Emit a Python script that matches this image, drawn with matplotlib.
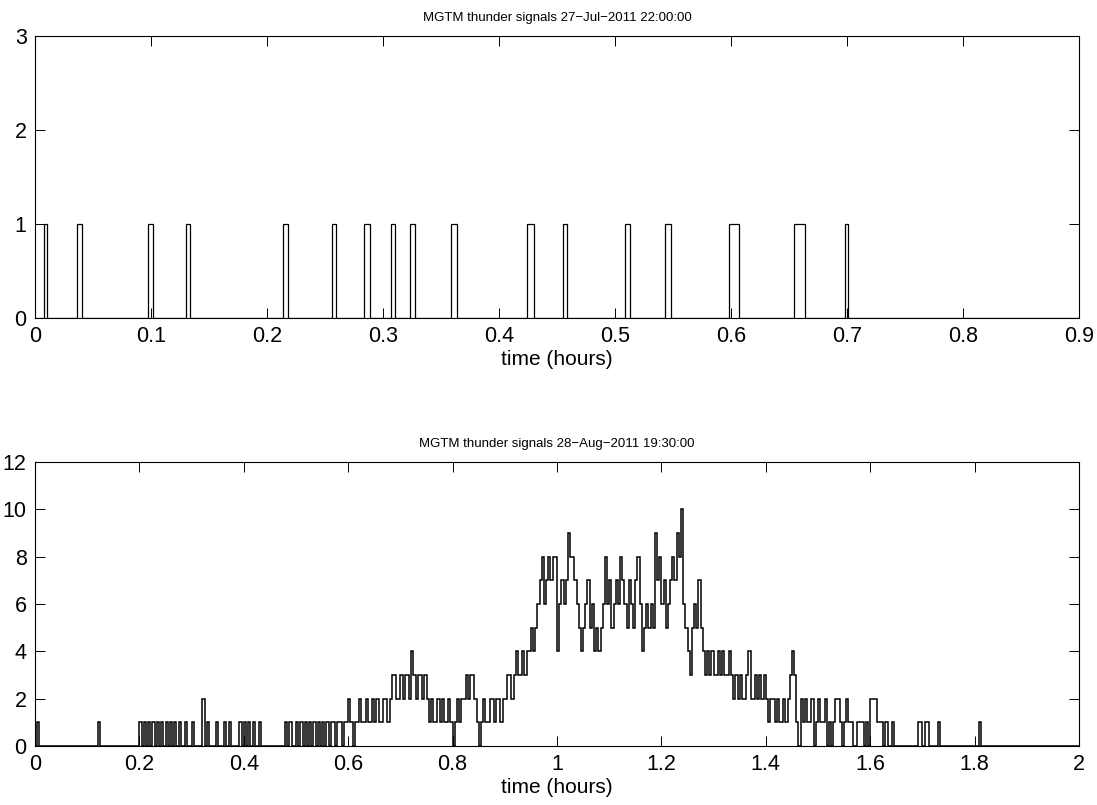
import numpy as np
import matplotlib
matplotlib.use("Agg")
import matplotlib.pyplot as plt

# top panel: pulse start/end times (hours), each pulse has height 1
pulse_start = [0.0078, 0.0359, 0.0974, 0.1300, 0.2140, 0.2560, 0.2836, 0.3067, 0.3233,
               0.3583, 0.4239, 0.4549, 0.5086, 0.5430, 0.5985, 0.6543, 0.6985]
pulse_end = [0.0101, 0.0405, 0.1020, 0.1336, 0.2184, 0.2595, 0.2890, 0.3106, 0.3273,
             0.3640, 0.4300, 0.4589, 0.5129, 0.5480, 0.6072, 0.6640, 0.7009]

# bottom panel: counts per 15 s bin, one list per quarter hour
counts_q1 = [0, 1, 0, 0, 0, 0, 0, 0, 0, 0, 0, 0, 0, 0, 0, 0, 0, 0, 0, 0,
             0, 0, 0, 0, 0, 0, 0, 0, 0, 1, 0, 0, 0, 0, 0, 0, 0, 0, 0, 0,
             0, 0, 0, 0, 0, 0, 0, 0, 1, 0, 1, 0, 1, 0, 1, 0, 1, 0, 1, 0]
counts_q2 = [1, 0, 1, 0, 1, 0, 1, 0, 0, 1, 0, 0, 1, 0, 0, 0, 0, 2, 0, 1,
             0, 0, 0, 1, 0, 0, 0, 1, 0, 1, 0, 0, 0, 0, 1, 0, 1, 0, 1, 0,
             1, 0, 0, 1, 0, 0, 0, 0, 0, 0, 0, 0, 0, 0, 0, 1, 0, 1, 0, 0]
counts_q3 = [1, 0, 1, 0, 1, 0, 1, 0, 1, 0, 1, 0, 1, 0, 1,
             0, 1, 1, 0, 1, 1, 0, 1, 1, 2, 1, 0, 1, 1, 2, 1, 1, 2, 1, 1, 2,
             1, 2, 1, 1, 2, 2, 1, 2, 3, 3, 2, 2,
             3, 2, 3, 3, 2, 4, 3, 2, 3, 3, 2, 3]
counts_q4 = [2, 1, 2, 1, 1, 2, 1, 2, 1, 1, 2, 1, 0, 1, 2, 1, 2, 2, 3, 2,
             3, 3, 2, 1, 0, 1, 2, 1, 1, 2, 2, 1, 2, 2, 1, 2, 2, 3, 3, 2,
             3, 4, 3, 3, 4, 3, 4, 4, 5, 4, 5, 6, 7, 8, 6, 7, 8, 7, 8, 8]
counts_q5 = [4, 6, 7, 6, 7, 9, 8, 8, 7, 6, 5, 4, 5, 6, 7, 5, 6, 4, 5, 4,
             5, 6, 8, 6, 7, 5, 6, 7, 6, 8, 7, 6, 5, 7, 6, 5, 7, 8, 6, 4,
             5, 6, 5, 6, 5, 9, 7, 8, 6, 7, 5, 6, 7, 8, 7, 9, 8, 10, 6, 5]
counts_q6 = [4, 3, 5, 6, 5, 7, 5, 4, 3, 4, 3, 4, 3, 3, 4, 3, 4, 3, 3, 4,
             3, 2, 3, 2, 3, 2, 2, 3, 4, 2, 2, 3, 2, 3, 2, 3, 2, 1, 2, 2,
             1, 2, 1, 1, 2, 1, 2, 3, 4, 3, 1, 0, 2, 1, 2, 1, 1, 2, 0, 1]
counts_q7 = [2, 1, 1, 2, 0, 1, 0, 1, 2, 2, 1, 0, 1, 2, 1, 1, 0, 0, 1, 1,
             1, 0, 1, 0, 2, 2, 2, 1, 1, 1, 0, 1, 0, 0, 1, 0, 0, 0, 0, 0,
             0, 0, 0, 0, 0, 0, 1, 1, 0, 1, 1, 0, 0, 0, 0, 1, 0, 0, 0, 0]
counts_q8 = [0, 0, 0, 0, 0, 0, 0, 0, 0, 0, 0, 0, 0, 0, 1, 0, 0, 0, 0, 0,
             0, 0, 0, 0, 0, 0, 0, 0, 0, 0, 0, 0, 0, 0, 0, 0, 0, 0, 0, 0,
             0, 0, 0, 0, 0, 0, 0, 0, 0, 0, 0, 0, 0, 0, 0, 0, 0, 0, 0, 0]

title_top = "MGTM thunder signals 27\u2212Jul\u22122011 22:00:00"
title_bottom = "MGTM thunder signals 28\u2212Aug\u22122011 19:30:00"

plt.rcParams['font.family'] = ['Liberation Sans', 'DejaVu Sans']

fig = plt.figure(figsize=(10.97, 8.05), dpi=100)
ax1 = fig.add_axes([35 / 1097, 1 - 318 / 805, 1044 / 1097, 282 / 805])
ax2 = fig.add_axes([35 / 1097, 1 - 746 / 805, 1044 / 1097, 284 / 805])

# top: build step edges from the pulse list
edges1 = np.concatenate([[0.0], np.column_stack([pulse_start, pulse_end]).ravel(), [0.9]])
vals1 = np.array([i % 2 for i in range(len(edges1) - 1)])
ax1.stairs(vals1, edges1, color='k', lw=0.9, baseline=None)

# bottom: 15 second bins
counts = np.array(counts_q1 + counts_q2 + counts_q3 + counts_q4 +
                  counts_q5 + counts_q6 + counts_q7 + counts_q8)
edges2 = np.arange(len(counts) + 1) / 240.0
ax2.stairs(counts, edges2, color='k', lw=1.1, baseline=None)

ax1.set_xlim(0, 0.9)
ax1.set_ylim(0, 3)
ax1.set_xticks(np.arange(0, 0.91, 0.1))
ax1.set_xticklabels(['0', '0.1', '0.2', '0.3', '0.4', '0.5', '0.6', '0.7', '0.8', '0.9'])
ax1.set_yticks([0, 1, 2, 3])

ax2.set_xlim(0, 2)
ax2.set_ylim(0, 12)
ax2.set_xticks(np.arange(0, 2.01, 0.2))
ax2.set_xticklabels(['0', '0.2', '0.4', '0.6', '0.8', '1', '1.2', '1.4', '1.6', '1.8', '2'])
ax2.set_yticks(np.arange(0, 13, 2))

for ax, ttl in [(ax1, title_top), (ax2, title_bottom)]:
    ax.set_title(ttl, fontsize=9.5, pad=11, family=['Liberation Sans Narrow', 'Liberation Sans'])
    ax.set_xlabel('time (hours)', fontsize=15, labelpad=2)
    ax.tick_params(direction='in', top=True, right=True, length=7, width=0.7,
                   labelsize=15.5, pad=6)
    for s in ax.spines.values():
        s.set_linewidth(0.8)

fig.savefig('out.png', dpi=100)
